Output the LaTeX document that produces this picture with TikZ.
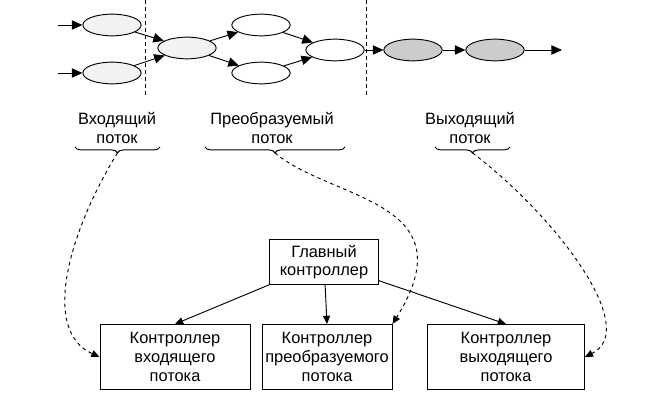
\documentclass[tikz,border=0pt]{standalone}
\usepackage{fontspec}
\setmainfont{Liberation Sans}
\usetikzlibrary{positioning,decorations.pathreplacing,arrows.meta,shapes.geometric}

\begin{document}
\begin{tikzpicture}[
    x=0.03cm, y=-0.03cm,
    state/.style={ellipse, draw, thick, minimum width=1.75cm, minimum height=0.65cm, inner sep=0pt, fill=gray!10},
    dark/.style={state, fill=gray!40},
    block/.style={rectangle, draw, thick, align=center, font=\fontsize{14}{16}\selectfont, minimum height=1.95cm, inner sep=2pt},
    flow/.style={-{Triangle[length=9pt,width=8pt]}, thick},
    link/.style={-{Triangle[length=7pt,width=6pt]}, thick},
    hint/.style={-{Triangle[length=7pt,width=6pt]}, thick, dashed},
    caption/.style={align=center, font=\fontsize{14}{16}\selectfont},
    bracket/.style={decorate, decoration={brace, mirror, amplitude=5pt}, thick}
  ]
    \useasboundingbox (0,0) rectangle (660,404);

    % Flow of states
    \coordinate (src1) at (58,25);
    \coordinate (src2) at (58,73);
    \node[state] (in1) at (112,25) {};
    \node[state] (in2) at (112,73) {};
    \node[state] (mix) at (187,48) {};
    \node[state, fill=white] (up) at (261,25) {};
    \node[state, fill=white] (down) at (261,73) {};
    \node[state, fill=white] (join) at (335,50) {};
    \node[dark] (out1) at (413,50) {};
    \node[dark] (out2) at (495,50) {};
    \coordinate (sink) at (562,50);

    \draw[flow] (src1) -- (in1);
    \draw[flow] (src2) -- (in2);
    \draw[flow] (in1) -- (mix);
    \draw[flow] (in2) -- (mix);
    \draw[flow] (mix) -- (up);
    \draw[flow] (mix) -- (down);
    \draw[flow] (up) -- (join);
    \draw[flow] (down) -- (join);
    \draw[flow] (join) -- (out1);
    \draw[flow] (out1) -- (out2);
    \draw[flow] (out2) -- (sink);

    % Borders between stages
    \coordinate (cut1a) at (145,0);
    \coordinate (cut1b) at (145,95);
    \coordinate (cut2a) at (366,0);
    \coordinate (cut2b) at (366,95);
    \draw[thick, dashed] (cut1a) -- (cut1b);
    \draw[thick, dashed] (cut2a) -- (cut2b);

    % Stage captions
    \node[caption] (inCap) at (117,128) {Входящий\\поток};
    \node[caption] (midCap) at (272,128) {Преобразуемый\\поток};
    \node[caption] (outCap) at (470,128) {Выходящий\\поток};

    \draw[bracket] (75,147) -- coordinate[below=5pt] (inB) (160,147);
    \draw[bracket] (205,147) -- coordinate[below=5pt] (midB) (345,147);
    \draw[bracket] (435,147) -- coordinate[below=5pt] (outB) (510,147);

    % Controllers
    \node[block, minimum width=3.25cm, minimum height=1.35cm] (main) at (324,262) {Главный\\контроллер};
    \node[block, minimum width=4.5cm] (inCtl) at (175,357) {Контроллер\\входящего\\потока};
    \node[block, minimum width=3.9cm] (midCtl) at (327,357) {Контроллер\\преобразуемого\\потока};
    \node[block, minimum width=4.7cm] (outCtl) at (506,357) {Контроллер\\выходящего\\потока};

    \draw[link] (main) -- (inCtl.north);
    \draw[link] (main) -- (midCtl.north);
    \draw[link] (main) -- (outCtl.north);

    % Assignment of stages
    \draw[hint] (inB) .. controls (70,230) and (40,330) .. (inCtl.west);
    \draw[hint] (midB) .. controls (330,200) and (470,200) .. (midCtl.north east);
    \draw[hint] (outB) .. controls (560,220) and (640,330) .. (outCtl.east);
\end{tikzpicture}
\end{document}
